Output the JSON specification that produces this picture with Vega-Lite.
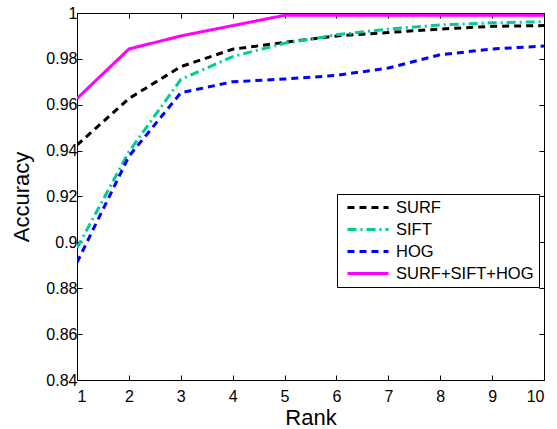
{
  "$schema": "https://vega.github.io/schema/vega-lite/v6.json",
  "autosize": {"type": "none"},
  "padding": {"left": 77, "top": 13, "right": 13, "bottom": 49},
  "width": 467,
  "height": 367,
  "background": "white",
  "config": {
    "font": "Liberation Sans",
    "view": {"stroke": "black", "strokeWidth": 1},
    "axis": {"grid": false, "domainColor": "black", "tickColor": "black", "labelColor": "black", "titleColor": "black", "labelFont": "Liberation Sans", "titleFont": "Liberation Sans", "labelFontSize": 16, "titleFontSize": 22, "titleFontWeight": "normal", "tickSize": -5}
  },
  "data": {"values": [
    {"rank": 1, "method": "SURF", "acc": 0.9424},
    {"rank": 2, "method": "SURF", "acc": 0.9627},
    {"rank": 3, "method": "SURF", "acc": 0.9766},
    {"rank": 4, "method": "SURF", "acc": 0.9842},
    {"rank": 5, "method": "SURF", "acc": 0.9872},
    {"rank": 6, "method": "SURF", "acc": 0.9900},
    {"rank": 7, "method": "SURF", "acc": 0.9915},
    {"rank": 8, "method": "SURF", "acc": 0.9930},
    {"rank": 9, "method": "SURF", "acc": 0.9942},
    {"rank": 10, "method": "SURF", "acc": 0.9945},
    {"rank": 1, "method": "SIFT", "acc": 0.8975},
    {"rank": 2, "method": "SIFT", "acc": 0.9395},
    {"rank": 3, "method": "SIFT", "acc": 0.9710},
    {"rank": 4, "method": "SIFT", "acc": 0.9810},
    {"rank": 5, "method": "SIFT", "acc": 0.9868},
    {"rank": 6, "method": "SIFT", "acc": 0.9905},
    {"rank": 7, "method": "SIFT", "acc": 0.9930},
    {"rank": 8, "method": "SIFT", "acc": 0.9948},
    {"rank": 9, "method": "SIFT", "acc": 0.9957},
    {"rank": 10, "method": "SIFT", "acc": 0.9962},
    {"rank": 1, "method": "HOG", "acc": 0.8912},
    {"rank": 2, "method": "HOG", "acc": 0.9375},
    {"rank": 3, "method": "HOG", "acc": 0.9652},
    {"rank": 4, "method": "HOG", "acc": 0.9700},
    {"rank": 5, "method": "HOG", "acc": 0.9712},
    {"rank": 6, "method": "HOG", "acc": 0.9728},
    {"rank": 7, "method": "HOG", "acc": 0.9760},
    {"rank": 8, "method": "HOG", "acc": 0.9818},
    {"rank": 9, "method": "HOG", "acc": 0.9843},
    {"rank": 10, "method": "HOG", "acc": 0.9856},
    {"rank": 1, "method": "SURF+SIFT+HOG", "acc": 0.9627},
    {"rank": 2, "method": "SURF+SIFT+HOG", "acc": 0.9843},
    {"rank": 3, "method": "SURF+SIFT+HOG", "acc": 0.9900},
    {"rank": 4, "method": "SURF+SIFT+HOG", "acc": 0.9945},
    {"rank": 5, "method": "SURF+SIFT+HOG", "acc": 0.9990},
    {"rank": 6, "method": "SURF+SIFT+HOG", "acc": 0.9990},
    {"rank": 7, "method": "SURF+SIFT+HOG", "acc": 0.9990},
    {"rank": 8, "method": "SURF+SIFT+HOG", "acc": 0.9990},
    {"rank": 9, "method": "SURF+SIFT+HOG", "acc": 0.9990},
    {"rank": 10, "method": "SURF+SIFT+HOG", "acc": 0.9990}
  ]},
  "layer": [
    {
      "mark": {"type": "line", "strokeWidth": 3, "clip": true},
      "encoding": {
        "x": {"field": "rank", "type": "quantitative", "scale": {"domain": [1, 10], "nice": false}, "axis": {"values": [1,2,3,4,5,6,7,8,9,10], "title": "Rank", "labelPadding": 13, "titlePadding": 3}},
        "y": {"field": "acc", "type": "quantitative", "scale": {"domain": [0.84, 1], "nice": false, "zero": false}, "axis": {"values": [0.84,0.86,0.88,0.9,0.92,0.94,0.96,0.98,1], "format": "~g", "title": "Accuracy", "labelPadding": 5, "titlePadding": 12}},
        "color": {"field": "method", "type": "nominal", "scale": {"domain": ["SURF","SIFT","HOG","SURF+SIFT+HOG"], "range": ["#000000","#00CC99","#0000FF","#FF00FF"]},
          "legend": {"title": null, "orient": "none", "legendX": 260, "legendY": 181, "strokeColor": "black", "fillColor": "white", "padding": 5, "symbolType": "M-0.43,0L5.43,0", "symbolSize": 196, "symbolStrokeWidth": 3, "labelFontSize": 16.5, "labelFont": "Liberation Sans", "labelColor": "black", "rowPadding": 5, "labelOffset": 37, "cornerRadius": 0}},
        "strokeDash": {"field": "method", "type": "nominal", "scale": {"domain": ["SURF","SIFT","HOG","SURF+SIFT+HOG"], "range": [[7,5],[9,4,2,4],[7,5],[1,0]]}},
        "order": {"field": "rank", "type": "quantitative"}
      }
    },
    {
      "mark": {"type": "point", "opacity": 0},
      "encoding": {
        "x": {"field": "rank", "type": "quantitative", "axis": {"orient": "top", "values": [1,2,3,4,5,6,7,8,9,10], "labels": false, "title": null}},
        "y": {"field": "acc", "type": "quantitative", "axis": {"orient": "right", "values": [0.84,0.86,0.88,0.9,0.92,0.94,0.96,0.98,1], "labels": false, "title": null}}
      }
    }
  ],
  "resolve": {"axis": {"x": "independent", "y": "independent"}}
}
